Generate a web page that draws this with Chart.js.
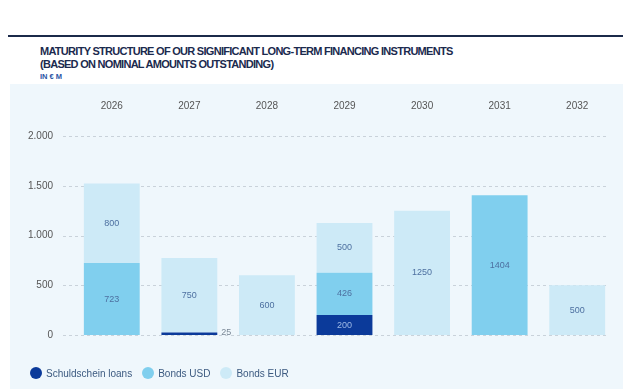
<!DOCTYPE html>
<html>
<head>
<meta charset="utf-8">
<script src="https://cdn.jsdelivr.net/npm/chart.js@4.4.1/dist/chart.umd.min.js"></script>
<style>
    html, body { margin: 0; padding: 0; background: #fff; }
    body { width: 623px; height: 389px; position: relative; overflow: hidden; font-family: "Liberation Sans", Arial, sans-serif; }
    #rule { position: absolute; left: 8px; right: 0; top: 35px; height: 2px; background: #1b2a4a; }
    #title { position: absolute; left: 40px; top: 45px; color: #1b2a4e; font-weight: bold; font-size: 11px; line-height: 13px; letter-spacing: -0.72px; }
    #unit { position: absolute; left: 40px; top: 72px; color: #2a55a5; font-weight: bold; font-size: 7.5px; }
    #panel { position: absolute; left: 10px; top: 84px; width: 613px; height: 305px; background: #eff7fc; }
    #panel canvas { position: absolute; left: 0; top: 0; }
    #legend { position: absolute; left: 20px; top: 283px; display: flex; font-size: 10px; color: #3c5a80; }
    .item { display: flex; align-items: center; margin-right: 10px; }
    .dot { width: 12px; height: 12px; border-radius: 50%; margin-right: 4px; }
</style>
</head>
<body>
<div id="rule"></div>
<div id="title">MATURITY STRUCTURE OF OUR SIGNIFICANT LONG-TERM FINANCING INSTRUMENTS<br>(BASED ON NOMINAL AMOUNTS OUTSTANDING)</div>
<div id="unit">IN € M</div>
<div id="panel">
    <canvas id="chart" width="613" height="305"></canvas>
    <div id="legend"></div>
</div>
<script>
// ====== DATA ======
const years = ["2026", "2027", "2028", "2029", "2030", "2031", "2032"];
const schuldschein = [0, 25, 0, 200, 0, 0, 0];
const bondsUsd = [723, 0, 0, 426, 0, 1404, 0];
const bondsEur = [800, 750, 600, 500, 1250, 0, 500];
const yTicks = [0, 500, 1000, 1500, 2000];

const seriesNames = ["Schuldschein loans", "Bonds USD", "Bonds EUR"];
const seriesColors = ["#0b3a9a", "#80cfee", "#cdeaf7"];

function formatTick(v) {
    return v.toLocaleString("de-DE");
}

// grid dashes run a bit left of the bars, so draw them ourselves
const dashedGrid = {
    id: "dashedGrid",
    beforeDatasetsDraw(chart) {
        const ctx = chart.ctx;
        const y = chart.scales.y;
        ctx.save();
        ctx.strokeStyle = "#c9d2da";
        ctx.lineWidth = 1;
        ctx.setLineDash([3, 3]);
        yTicks.forEach(t => {
            const py = Math.round(y.getPixelForValue(t)) + 0.5;
            ctx.beginPath();
            ctx.moveTo(53, py);
            ctx.lineTo(596, py);
            ctx.stroke();
        });
        ctx.restore();
    }
};

// value labels in the middle of each segment
const barLabels = {
    id: "barLabels",
    afterDatasetsDraw(chart) {
        const ctx = chart.ctx;
        ctx.save();
        ctx.font = "9px 'Liberation Sans', Arial, sans-serif";
        ctx.textBaseline = "middle";
        chart.data.datasets.forEach((ds, di) => {
            const meta = chart.getDatasetMeta(di);
            meta.data.forEach((bar, i) => {
                const v = ds.data[i];
                if (!v) return;
                const h = Math.abs(bar.base - bar.y);
                if (h < 12) {
                    ctx.textAlign = "left";
                    ctx.fillStyle = "#7a8896";
                    ctx.fillText(v, bar.x + bar.width / 2 + 4, (bar.y + bar.base) / 2 - 1);
                } else {
                    ctx.textAlign = "center";
                    ctx.fillStyle = di === 0 ? "#9db9e6" : "#4d70a0";
                    ctx.fillText(v, bar.x, (bar.y + bar.base) / 2);
                }
            });
        });
        ctx.restore();
    }
};

const chart = new Chart(document.getElementById("chart").getContext("2d"), {
    type: "bar",
    data: {
        labels: years,
        datasets: [
            { label: seriesNames[0], data: schuldschein, backgroundColor: seriesColors[0] },
            { label: seriesNames[1], data: bondsUsd, backgroundColor: seriesColors[1] },
            { label: seriesNames[2], data: bondsEur, backgroundColor: seriesColors[2] }
        ]
    },
    options: {
        responsive: false,
        animation: false,
        layout: { padding: { left: 18, right: 7, top: 15, bottom: 54 } },
        datasets: { bar: { categoryPercentage: 1, barPercentage: 0.72 } },
        plugins: {
            legend: { display: false },
            tooltip: { enabled: false }
        },
        scales: {
            x: {
                stacked: true,
                position: "top",
                grid: { display: false, drawTicks: false },
                border: { display: false },
                afterFit: axis => { axis.height = 37; },
                ticks: {
                    color: "#555",
                    font: { size: 10, family: "'Liberation Sans', Arial, sans-serif" },
                    padding: 24
                }
            },
            y: {
                stacked: true,
                min: 0,
                max: 2000,
                grid: { display: false, drawTicks: false },
                border: { display: false },
                afterBuildTicks: axis => { axis.ticks = yTicks.map(v => ({ value: v })); },
                afterFit: axis => { axis.width = 45; },
                ticks: {
                    color: "#555",
                    font: { size: 10, family: "'Liberation Sans', Arial, sans-serif" },
                    padding: 20,
                    callback: v => formatTick(v)
                }
            }
        }
    },
    plugins: [dashedGrid, barLabels]
});

// ====== LEGEND ======
const legendEl = document.getElementById("legend");
seriesNames.forEach((name, i) => {
    const item = document.createElement("div");
    item.className = "item";
    item.innerHTML = `<span class="dot" style="background:${seriesColors[i]}"></span>${name}`;
    legendEl.appendChild(item);
});
</script>
</body>
</html>
